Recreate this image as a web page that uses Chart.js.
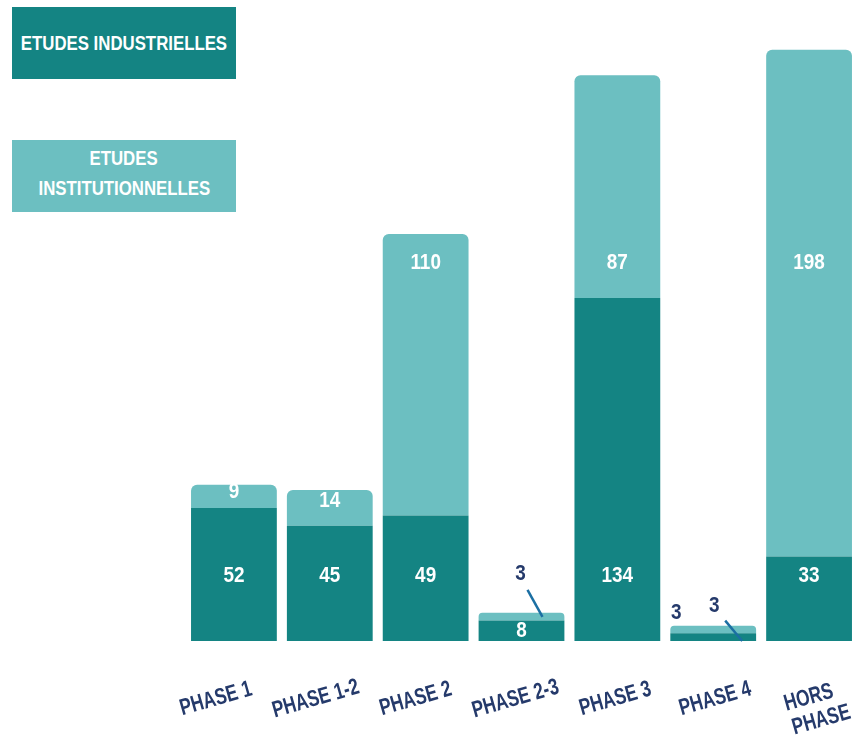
<!DOCTYPE html>
<html lang="fr">
<head>
  <meta charset="UTF-8" />
  <title>Etudes par phase</title>
  <script src="https://cdn.jsdelivr.net/npm/chart.js"></script>
  <style>
    body {
      margin: 0;
      padding: 0;
      background-color: #ffffff;
      font-family: "Liberation Sans", Arial, sans-serif;
    }

    .wrap {
      position: relative;
      width: 864px;
      height: 743px;
    }

    .legend-box {
      position: absolute;
      left: 12px;
      width: 224px;
      height: 72px;
      color: #ffffff;
      font-weight: bold;
      font-size: 21px;
      line-height: 30px;
      display: flex;
      flex-direction: column;
      align-items: center;
      justify-content: center;
      text-align: center;
    }

    .legend-box span {
      display: block;
      white-space: nowrap;
      transform: scaleX(0.8);
    }

    .industrial { top: 7px; background-color: #148483; }
    .institutional { top: 140px; background-color: #6cbfc1; padding-bottom: 6px; box-sizing: border-box; }
  </style>
</head>
<body>
  <div class="wrap">
    <canvas id="phaseChart" width="864" height="743"></canvas>
    <div class="legend-box industrial"><span>ETUDES INDUSTRIELLES</span></div>
    <div class="legend-box institutional"><span>ETUDES</span><span>INSTITUTIONNELLES</span></div>
  </div>

  <script>
    const phases = [['PHASE 1'], ['PHASE 1-2'], ['PHASE 2'], ['PHASE 2-3'], ['PHASE 3'], ['PHASE 4'], ['HORS', 'PHASE']];
    const industrielles = [52, 45, 49, 8, 134, 3, 33];
    const institutionnelles = [9, 14, 110, 3, 87, 3, 198];

    const darkTeal = '#148483';
    const lightTeal = '#6cbfc1';
    const navy = '#253a6b';
    const leaderBlue = '#1b6fa3';
    const fontFamily = '"Liberation Sans", Arial, sans-serif';

    // narrow text: the source font is a condensed one
    function condensedText(ctx, text, x, y, sx) {
      ctx.save();
      ctx.translate(x, y);
      ctx.scale(sx, 1);
      ctx.fillText(text, 0, 0);
      ctx.restore();
    }

    // value labels and rotated phase labels, placed from the chart's own scales
    const labelsPlugin = {
      id: 'phaseLabels',
      afterDatasetsDraw(chart) {
        const ctx = chart.ctx;
        const xScale = chart.scales.x;
        const yScale = chart.scales.y;
        const baseline = yScale.getPixelForValue(0);
        const darkMeta = chart.getDatasetMeta(0);
        const lightMeta = chart.getDatasetMeta(1);

        ctx.save();
        ctx.font = 'bold 22px ' + fontFamily;
        ctx.textAlign = 'center';
        ctx.textBaseline = 'middle';

        phases.forEach((p, i) => {
          const dark = darkMeta.data[i];
          const light = lightMeta.data[i];
          const cx = dark.x;
          const darkH = baseline - dark.y;
          const lightH = dark.y - light.y;
          const darkSmall = darkH < 14;

          // industrial value
          if (!darkSmall) {
            ctx.fillStyle = '#ffffff';
            const y = darkH > 80 ? baseline - 65 : dark.y + darkH / 2;
            condensedText(ctx, industrielles[i], cx, y, 0.86);
          } else {
            ctx.fillStyle = navy;
            condensedText(ctx, industrielles[i], dark.x - dark.width / 2 + 6, light.y - 13, 0.86);
          }

          // institutional value
          if (lightH >= 14) {
            ctx.fillStyle = '#ffffff';
            const y = lightH > 150 ? Math.max(light.y + 29, baseline - 378) : light.y + lightH * 0.3;
            condensedText(ctx, institutionnelles[i], cx, y, 0.86);
          } else {
            ctx.fillStyle = navy;
            ctx.strokeStyle = leaderBlue;
            ctx.lineWidth = 2.5;
            ctx.beginPath();
            if (darkSmall) {
              condensedText(ctx, institutionnelles[i], cx + 1, light.y - 20, 0.86);
              ctx.moveTo(cx + 12, light.y - 5);
              ctx.lineTo(cx + 29, baseline);
            } else {
              condensedText(ctx, institutionnelles[i], cx - 1, light.y - 39, 0.86);
              ctx.moveTo(cx + 6, light.y - 23);
              ctx.lineTo(cx + 21, light.y + 4);
            }
            ctx.stroke();
          }
        });

        // rotated category labels
        ctx.fillStyle = navy;
        ctx.font = 'bold 23px ' + fontFamily;
        phases.forEach((lines, i) => {
          const x = xScale.getPixelForValue(i) - 18 + i * 4;
          const y = lines.length > 1 ? 709 : 699;
          ctx.save();
          ctx.translate(x, y);
          ctx.rotate(-16 * Math.PI / 180);
          lines.forEach((line, k) => {
            const dy = (k - (lines.length - 1) / 2) * 25;
            const dx = (k - (lines.length - 1) / 2) * 6;
            condensedText(ctx, line, dx, dy, 0.75);
          });
          ctx.restore();
        });
        ctx.restore();
      }
    };

    const ctx = document.getElementById('phaseChart').getContext('2d');
    const chart = new Chart(ctx, {
      type: 'bar',
      data: {
        labels: phases,
        datasets: [
          {
            label: 'ETUDES INDUSTRIELLES',
            data: industrielles,
            backgroundColor: darkTeal,
            borderWidth: 0,
            borderRadius: 0,
            barPercentage: 0.895,
            categoryPercentage: 1
          },
          {
            label: 'ETUDES INSTITUTIONNELLES',
            data: institutionnelles,
            backgroundColor: lightTeal,
            borderWidth: 0,
            borderSkipped: false,
            borderRadius: { topLeft: 6, topRight: 6, bottomLeft: 0, bottomRight: 0 },
            barPercentage: 0.895,
            categoryPercentage: 1
          }
        ]
      },
      options: {
        responsive: false,
        animation: false,
        layout: {
          padding: { left: 186, right: 7, top: 1, bottom: 102 }
        },
        scales: {
          x: {
            stacked: true,
            display: false
          },
          y: {
            stacked: true,
            display: false,
            min: 0,
            max: 250
          }
        },
        plugins: {
          legend: { display: false },
          tooltip: { enabled: false }
        }
      },
      plugins: [labelsPlugin]
    });
  </script>
</body>
</html>
